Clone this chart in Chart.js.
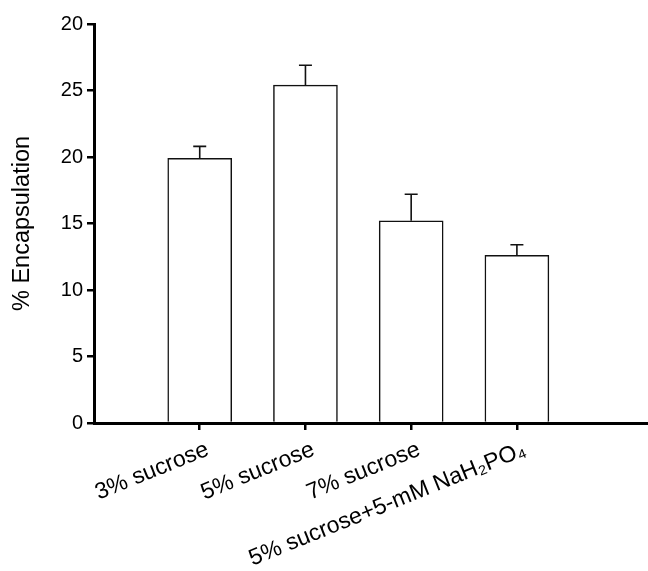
<!DOCTYPE html>
<html>
<head>
<meta charset="utf-8">
<script src="https://cdn.jsdelivr.net/npm/chart.js@4"></script>
<style>
  html, body { margin: 0; padding: 0; background: #fff; }
  #wrap { width: 648px; height: 571px; }
</style>
</head>
<body>
<div id="wrap"><canvas id="enc-chart" width="648" height="571"></canvas></div>
<script>
const categories = ['3% sucrose', '5% sucrose', '7% sucrose', '5% sucrose+5-mM NaH\u2082PO\u2084']
const positions = [1, 2, 3, 4]
const encapsulation = [19.9, 25.4, 15.2, 12.6]
const errors = [0.9, 1.5, 2.0, 0.8]
// the original figure labels its top tick "20" (really 30)
const yTickLabels = ['0', '5', '10', '15', '20', '25', '20']

const FONT = "'Liberation Sans', Arial, sans-serif"

const errorBars = {
    id: 'errorBars',
    afterDatasetsDraw(chart) {
        const ctx = chart.ctx
        const y = chart.scales.y
        chart.getDatasetMeta(0).data.forEach((bar, i) => {
            const top = y.getPixelForValue(encapsulation[i])
            const hi = y.getPixelForValue(encapsulation[i] + errors[i])
            ctx.save()
            ctx.strokeStyle = '#111'
            ctx.lineWidth = 1.6
            ctx.beginPath()
            ctx.moveTo(bar.x, top)
            ctx.lineTo(bar.x, hi)
            ctx.moveTo(bar.x - 6.5, hi)
            ctx.lineTo(bar.x + 6.5, hi)
            ctx.stroke()
            ctx.restore()
        })
    }
}

const ctx = document.getElementById('enc-chart')
const encChart = new Chart(ctx, {
    type: 'bar',
    data: {
        datasets: [{
            data: positions.map((p, i) => ({ x: p, y: encapsulation[i] })),
            backgroundColor: '#fff',
            borderColor: '#111',
            borderWidth: 1.5,
            barThickness: 64
        }]
    },
    plugins: [errorBars],
    options: {
        responsive: false,
        animation: false,
        events: [],
        layout: { padding: { top: 24, left: 0, right: 0, bottom: 0 } },
        plugins: {
            legend: { display: false },
            tooltip: { enabled: false }
        },
        scales: {
            x: {
                type: 'linear',
                min: 0,
                max: 5.24,
                offset: false,
                afterBuildTicks: axis => {
                    axis.ticks = positions.map(v => ({ value: v }))
                },
                afterFit: axis => { axis.height = 148 },
                border: { color: '#000', width: 3 },
                grid: {
                    offset: false,
                    drawOnChartArea: false,
                    drawTicks: true,
                    tickLength: 7,
                    color: '#000',
                    lineWidth: 2.5
                },
                ticks: {
                    minRotation: 22,
                    maxRotation: 22,
                    padding: 6,
                    labelOffset: 8,
                    color: '#000',
                    font: { family: FONT, size: 23 },
                    callback: v => categories[positions.indexOf(v)]
                }
            },
            y: {
                min: 0,
                max: 30,
                afterFit: axis => { axis.width = 94 },
                border: { color: '#000', width: 3 },
                grid: {
                    drawOnChartArea: false,
                    drawTicks: true,
                    tickLength: 7,
                    color: '#000',
                    lineWidth: 2.5
                },
                ticks: {
                    stepSize: 5,
                    padding: 4,
                    color: '#000',
                    font: { family: FONT, size: 20 },
                    callback: (v, i) => yTickLabels[i]
                },
                title: {
                    display: true,
                    text: '% Encapsulation',
                    color: '#000',
                    padding: { top: 8, bottom: 0 },
                    font: { family: FONT, size: 23.5 }
                }
            }
        }
    }
})
</script>
</body>
</html>
